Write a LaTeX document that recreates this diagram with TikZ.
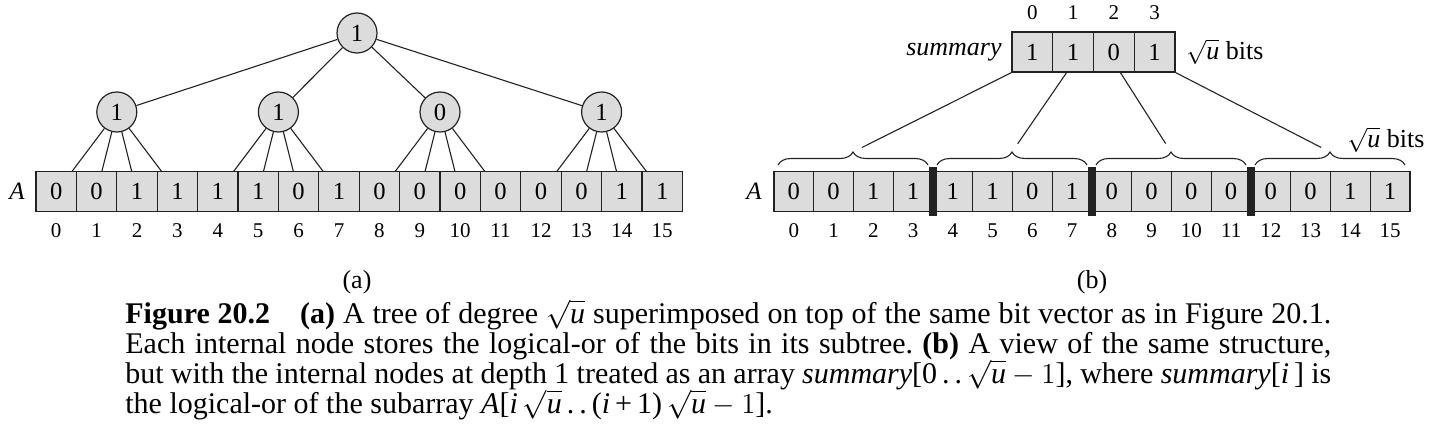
\documentclass[tikz,border=0pt]{standalone}
\usepackage{fontspec}
\setmainfont{Liberation Serif}
\usetikzlibrary{decorations.pathreplacing,calc}
\definecolor{cellfill}{HTML}{DCDCDC}
\definecolor{edgec}{HTML}{222222}
\newcommand{\sq}{$\sqrt{\textit{u}}$}
\newcommand{\capfont}{\fontsize{15}{15}\selectfont\frenchspacing}
\begin{document}
\begin{tikzpicture}[x=0.5pt,y=-0.5pt,
  bitcell/.style={draw=edgec,fill=cellfill,line width=0.6pt,minimum width=#1,minimum height=20pt,inner sep=0pt,font=\fontsize{12.3}{14}\selectfont},
  tnode/.style={circle,draw=edgec,fill=cellfill,line width=0.6pt,minimum size=20pt,inner sep=0pt,font=\fontsize{12.3}{14}\selectfont},
  idx/.style={inner sep=0pt,font=\fontsize{10.5}{12}\selectfont},
  lbl/.style={inner sep=0pt,font=\fontsize{13}{14}\selectfont},
  sub/.style={inner sep=0pt,font=\fontsize{13}{14}\selectfont},
  link/.style={draw=edgec,line width=0.55pt},
  capline/.style={anchor=base west,inner sep=0pt,font=\capfont}]
\useasboundingbox (0,0) rectangle (1433,444);
% ---------- (a) tree ----------
\node[lbl,font=\itshape\fontsize{12.5}{14}\selectfont] (lA) at (17,191) {A};
\foreach \b [count=\i from 0] in {0,0,1,1,1,1,0,1,0,0,0,0,0,0,1,1} {
  \node[bitcell=20.2pt] (a\i) at ({56.2+40.4*\i},191.7) {\b};
  \node[idx] (ai\i) at ({56.2+40.4*\i},231) {\i};
}
\node[tnode] (r) at (357,33) {1};
\node[tnode] (n0) at (116.8,112) {1};
\node[tnode] (n1) at (278.4,112) {1};
\node[tnode] (n2) at (440,112) {0};
\node[tnode] (n3) at (601.6,112) {1};
\foreach \k in {0,...,3} \draw[link] (r) -- (n\k);
\foreach \k/\x in {0/116.8,1/278.4,2/440,3/601.6} {
  \foreach \d [count=\j] in {-45,-15,15,45} {
    \coordinate (t\k\j) at ({\x+\d},171.7);
    \draw[link] (n\k) -- (t\k\j);
  }
}
% ---------- (b) summary ----------
\node[lbl,font=\itshape\fontsize{12.5}{14}\selectfont] (rA) at (754,191) {A};
\foreach \b [count=\i from 0] in {0,0,1,1,1,1,0,1,0,0,0,0,0,0,1,1} {
  \node[bitcell=19.875pt] (b\i) at ({793.875+39.75*\i},191.7) {\b};
  \node[idx] (bi\i) at ({793.875+39.75*\i},231) {\i};
}
\foreach \g in {1,2,3} \fill[edgec] ({774+159*\g-4},167) rectangle ({774+159*\g+4},216);
\foreach \g in {0,...,3} {
  \draw[link,decorate,decoration={brace,amplitude=6.5pt}] ({774+159*\g+4},165) -- ({774+159*(\g+1)-5},165);
  \coordinate (br\g) at ({774+159*\g+79},152);
}
\foreach \b [count=\i from 0] in {1,1,0,1} {
  \node[bitcell=20.375pt] (s\i) at ({1032.375+40.75*\i},52) {\b};
  \node[idx] (si\i) at ({1032.375+40.75*\i},13) {\i};
}
\node[lbl,anchor=east,font=\itshape\fontsize{13}{14}\selectfont] (sumlbl) at (1002,52) {summary};
\node[lbl,anchor=west] (bits1) at (1186,52) {\sq{} bits};
\node[lbl] (bits2) at (1386,140) {\sq{} bits};
\coordinate (c1) at (1067,72);
\coordinate (c2) at (1120,72);
\draw[link,shorten >=5pt] (s0.south west) -- (br0);
\draw[link,shorten >=5pt] (c1) -- (br1);
\draw[link,shorten >=5pt] (c2) -- (br2);
\draw[link,shorten >=5pt] (s3.south east) -- (br3);
% ---------- sub-captions ----------
\node[sub] (capa) at (357,282) {(a)};
\node[sub] (capb) at (1092,282) {(b)};
% ---------- caption ----------
\node[capline] (cap1) at (125,323) {\makebox[603pt][s]{\textbf{Figure 20.2}\quad\textbf{(a)} A tree of degree \sq{} superimposed on top of the same bit vector as in Figure 20.1.}};
\node[capline] (cap2) at (125,353) {\makebox[603pt][s]{Each internal node stores the logical-or of the bits in its subtree. \textbf{(b)} A view of the same structure,}};
\node[capline] (cap3) at (125,383) {\makebox[603pt][s]{but with the internal nodes at depth 1 treated as an array \mbox{\textit{summary}[0\,.\,.\,\sq${}-1$],} where \mbox{\textit{summary}[\textit{i}\,]} is}};
\node[capline] (cap4) at (125,413) {the logical-or of the subarray \mbox{\textit{A}[\textit{i}\,\sq\,.\,.\,(\textit{i}\,+\,1)\,\sq${}-1$].}};
\end{tikzpicture}
\end{document}
